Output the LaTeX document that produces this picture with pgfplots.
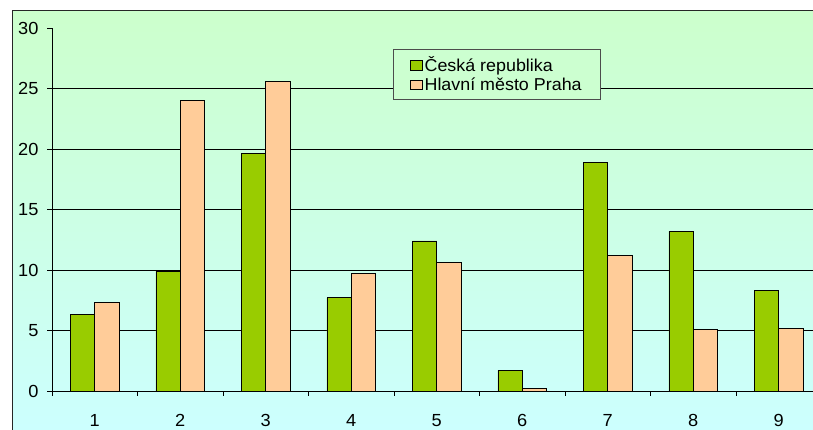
\documentclass[border=0pt]{standalone}
\usepackage{fontspec}
\setmainfont{Liberation Sans}[FakeStretch=1.04]
\usepackage{pgfplots}
\pgfplotsset{compat=1.18}
\definecolor{cr}{HTML}{99CC00}
\definecolor{pr}{HTML}{FFCC99}
\definecolor{bgtop}{HTML}{CCFFCC}
\definecolor{bgbot}{HTML}{CCFFFF}
\begin{document}
\begin{tikzpicture}
\clip (-52pt,-39pt) rectangle (761pt,391pt);
\shade[top color=bgtop, bottom color=bgbot] (-39.3pt,-45pt) rectangle (770pt,380.3pt);
\draw[black!85, line width=1pt] (-39.3pt,-45pt) -- (-39.3pt,380.3pt) -- (770pt,380.3pt);
\begin{axis}[
  scale only axis, width=769.5pt, height=363pt,
  xmin=0.5, xmax=9.5, ymin=0, ymax=30,
  axis lines*=left,
  axis line style={line width=0.9pt, black},
  ybar=0pt, bar width=24.3pt,
  xtick={1,...,9},
  major x tick style={draw=none},
  minor xtick={0.5,1.5,...,9.5},
  minor x tick style={line width=0.9pt, black},
  ytick={0,5,...,25},
  extra y ticks={30},
  extra y tick style={grid=none},
  ymajorgrids,
  grid style={black, line width=0.8pt},
  y tick style={line width=0.9pt, black},
  tick align=outside,
  major tick length=5pt, minor tick length=5pt,
  /pgf/number format/assume math mode=true,
  every tick label/.append style={font=\fontsize{17.5}{20}\selectfont},
  tick label style={font=\fontsize{17.5}{20}\selectfont},
  xticklabel style={yshift=-15pt},
  yticklabel style={xshift=-5pt},
  legend style={at={(0.443,0.942)}, anchor=north west,
    fill=bgtop!92!bgbot, draw=black!70, line width=0.8pt,
    font=\fontsize{17.2}{19}\selectfont,
    inner xsep=17pt, inner ysep=6pt, row sep=1pt,
    nodes={inner sep=1.5pt}},
  legend cell align=left,
  legend image code/.code={\draw[#1,draw=black,line width=0.8pt] (1pt,-5pt) rectangle (13pt,4.5pt);},
]
\addplot[fill=cr, draw=black, line width=0.9pt] coordinates {
(1,6.3) (2,9.9) (3,19.6) (4,7.7) (5,12.4) (6,1.7) (7,18.9) (8,13.2) (9,8.3)};
\addplot[fill=pr, draw=black, line width=0.9pt] coordinates {
(1,7.3) (2,24.0) (3,25.6) (4,9.7) (5,10.6) (6,0.2) (7,11.2) (8,5.1) (9,5.2)};
\legend{Česká republika, Hlavní město Praha}
\end{axis}
\end{tikzpicture}
\end{document}
